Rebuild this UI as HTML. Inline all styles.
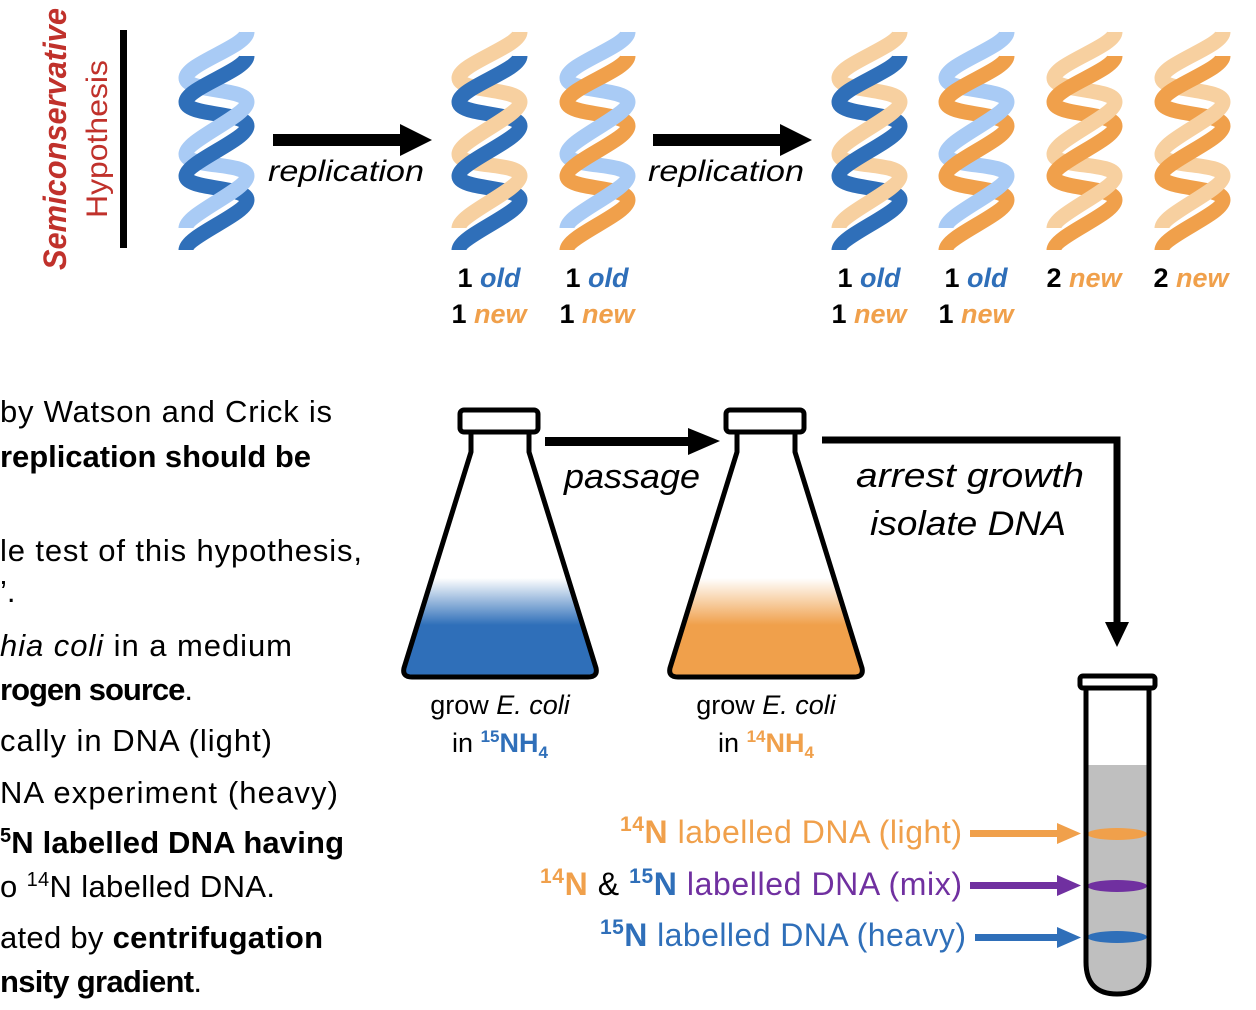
<!DOCTYPE html>
<html><head><meta charset="utf-8"><style>
html,body{margin:0;padding:0;background:#fff;}
svg{display:block;}
text{font-family:"Liberation Sans",sans-serif;}
</style></head><body>
<svg width="1256" height="1010" viewBox="0 0 1256 1010" xmlns="http://www.w3.org/2000/svg">
<defs>
<linearGradient id="blueG" gradientUnits="userSpaceOnUse" x1="0" y1="578" x2="0" y2="625">
<stop offset="0" stop-color="#ffffff"/><stop offset="1" stop-color="#2f6fb9"/></linearGradient>
<linearGradient id="orG" gradientUnits="userSpaceOnUse" x1="0" y1="578" x2="0" y2="625">
<stop offset="0" stop-color="#ffffff"/><stop offset="1" stop-color="#f0a04b"/></linearGradient>
</defs>

<text transform="translate(66,270) rotate(-90)" font-size="32" font-weight="bold" font-style="italic" fill="#c0312b" textLength="262" lengthAdjust="spacingAndGlyphs">Semiconservative</text>
<text transform="translate(107,218) rotate(-90)" font-size="30" fill="#c0312b" textLength="158" lengthAdjust="spacingAndGlyphs">Hypothesis</text>
<rect x="120" y="30" width="7" height="218" fill="#000"/>

<g id="helices" stroke-width="15" stroke-linecap="butt" fill="none"></g>

<rect x="273" y="134" width="130" height="12" fill="#000"/>
<polygon points="400,124 432,140 400,156" fill="#000"/>
<text x="268" y="181" font-size="30" font-style="italic" textLength="156" lengthAdjust="spacingAndGlyphs">replication</text>
<rect x="653" y="134" width="130" height="12" fill="#000"/>
<polygon points="780,124 812,140 780,156" fill="#000"/>
<text x="648" y="181" font-size="30" font-style="italic" textLength="156" lengthAdjust="spacingAndGlyphs">replication</text>

<g font-size="27" font-weight="bold" text-anchor="middle">
<text x="489" y="287">1 <tspan fill="#2f6fb9" font-style="italic">old</tspan></text>
<text x="489" y="323">1 <tspan fill="#f0a04b" font-style="italic">new</tspan></text>
<text x="597" y="287">1 <tspan fill="#2f6fb9" font-style="italic">old</tspan></text>
<text x="597" y="323">1 <tspan fill="#f0a04b" font-style="italic">new</tspan></text>
<text x="869" y="287">1 <tspan fill="#2f6fb9" font-style="italic">old</tspan></text>
<text x="869" y="323">1 <tspan fill="#f0a04b" font-style="italic">new</tspan></text>
<text x="976" y="287">1 <tspan fill="#2f6fb9" font-style="italic">old</tspan></text>
<text x="976" y="323">1 <tspan fill="#f0a04b" font-style="italic">new</tspan></text>
<text x="1084" y="287">2 <tspan fill="#f0a04b" font-style="italic">new</tspan></text>
<text x="1191" y="287">2 <tspan fill="#f0a04b" font-style="italic">new</tspan></text>
</g>

<g font-size="31" lengthAdjust="spacingAndGlyphs">
<text x="0" y="422" textLength="332">by Watson and Crick is</text>
<text x="0" y="467" font-weight="bold" textLength="311">replication should be</text>
<text x="0" y="561" textLength="362">le test of this hypothesis,</text>
<text x="0" y="602">’.</text>
<text x="0" y="656" textLength="292"><tspan font-style="italic">hia coli</tspan> in a medium</text>
<text x="0" y="700" font-weight="bold" textLength="193">rogen source<tspan font-weight="normal">.</tspan></text>
<text x="0" y="751" textLength="272">cally in DNA (light)</text>
<text x="0" y="803" textLength="338">NA experiment (heavy)</text>
<text x="0" y="853" font-weight="bold" textLength="344"><tspan font-size="20" dy="-11">5</tspan><tspan dy="11">N labelled DNA having</tspan></text>
<text x="0" y="897" textLength="275">o <tspan font-size="20" dy="-11">14</tspan><tspan dy="11">N labelled DNA.</tspan></text>
<text x="0" y="948" textLength="323">ated by <tspan font-weight="bold">centrifugation</tspan></text>
<text x="0" y="992" textLength="202"><tspan font-weight="bold">nsity gradient</tspan>.</text>
</g>

<g stroke="#000" stroke-width="5" stroke-linejoin="round">
<path d="M471,432 L471,452 L404,668 Q402,677 412,677 L588,677 Q598,677 596,668 L529,452 L529,432" fill="url(#blueG)"/>
<rect x="460" y="410" width="78" height="22" rx="4" fill="#fff"/>
<path d="M737,432 L737,452 L670,668 Q668,677 678,677 L854,677 Q864,677 862,668 L795,452 L795,432" fill="url(#orG)"/>
<rect x="726" y="410" width="78" height="22" rx="4" fill="#fff"/>
</g>
<rect x="545" y="437" width="145" height="9" fill="#000"/>
<polygon points="688,428 720,441 688,455" fill="#000"/>
<text x="632" y="488" font-size="34" font-style="italic" text-anchor="middle" textLength="136" lengthAdjust="spacingAndGlyphs">passage</text>

<path d="M822,440 L1117,440 L1117,625" fill="none" stroke="#000" stroke-width="7"/>
<polygon points="1105,622 1129,622 1117,647" fill="#000"/>
<text x="970" y="487" font-size="34" font-style="italic" text-anchor="middle" textLength="228" lengthAdjust="spacingAndGlyphs">arrest growth</text>
<text x="968" y="535" font-size="34" font-style="italic" text-anchor="middle" textLength="196" lengthAdjust="spacingAndGlyphs">isolate DNA</text>

<g font-size="27" text-anchor="middle">
<text x="500" y="714">grow <tspan font-style="italic">E. coli</tspan></text>
<text x="500" y="752">in <tspan fill="#2f6fb9" font-weight="bold"><tspan font-size="17" dy="-10">15</tspan><tspan dy="10">NH</tspan><tspan font-size="17" dy="6">4</tspan></tspan></text>
<text x="766" y="714">grow <tspan font-style="italic">E. coli</tspan></text>
<text x="766" y="752">in <tspan fill="#f0a04b" font-weight="bold"><tspan font-size="17" dy="-10">14</tspan><tspan dy="10">NH</tspan><tspan font-size="17" dy="6">4</tspan></tspan></text>
</g>

<path d="M1087,765 L1148,765 L1148,962 Q1148,993 1117,993 Q1087,993 1087,962 Z" fill="#bfbfbf"/>
<ellipse cx="1117" cy="834" rx="30" ry="6" fill="#f0a04b"/>
<ellipse cx="1117" cy="886" rx="30" ry="6" fill="#7030a0"/>
<ellipse cx="1117" cy="937" rx="30" ry="6" fill="#2f6fb9"/>
<path d="M1086,688 L1086,962 Q1086,994 1117,994 Q1149,994 1149,962 L1149,688" fill="none" stroke="#000" stroke-width="5"/>
<rect x="1080" y="676" width="75" height="12" rx="3" fill="#fff" stroke="#000" stroke-width="5"/>

<g font-size="32" lengthAdjust="spacingAndGlyphs">
<text x="620" y="843" fill="#f0a04b" textLength="342"><tspan font-weight="bold"><tspan font-size="21" dy="-12">14</tspan><tspan dy="12">N</tspan></tspan> labelled DNA (light)</text>
<text x="540" y="895" fill="#7030a0" textLength="422"><tspan fill="#f0a04b" font-weight="bold"><tspan font-size="21" dy="-12">14</tspan><tspan dy="12">N</tspan></tspan><tspan fill="#000"> &amp; </tspan><tspan fill="#2f6fb9" font-weight="bold"><tspan font-size="21" dy="-12">15</tspan><tspan dy="12">N</tspan></tspan> labelled DNA (mix)</text>
<text x="600" y="946" fill="#2f6fb9" textLength="366"><tspan font-weight="bold"><tspan font-size="21" dy="-12">15</tspan><tspan dy="12">N</tspan></tspan> labelled DNA (heavy)</text>
</g>
<rect x="970" y="830" width="90" height="7" fill="#f0a04b"/><polygon points="1057,823 1081,833.5 1057,844" fill="#f0a04b"/>
<rect x="970" y="882" width="90" height="7" fill="#7030a0"/><polygon points="1057,875 1081,885.5 1057,896" fill="#7030a0"/>
<rect x="975" y="934" width="85" height="7" fill="#2f6fb9"/><polygon points="1057,927 1081,937.5 1057,948" fill="#2f6fb9"/>
</svg>
<script>
(function(){
var g=document.getElementById('helices');
var NS='http://www.w3.org/2000/svg';
var L=8,R=69;
var A=[[R,6],[L,52],[R,76],[L,128],[R,150],[L,202]];
var B=[[R,30],[L,76],[R,100],[L,150],[R,174],[L,224]];
function seg(p,q,c,ox,oy){var e=document.createElementNS(NS,'path');
var x1=p[0]+ox,y1=p[1]+oy,x2=q[0]+ox,y2=q[1]+oy,k=14;
e.setAttribute('d','M'+x1+','+y1+' C'+x1+','+(y1+k)+' '+x2+','+(y2-k)+' '+x2+','+y2);
e.setAttribute('stroke',c);g.appendChild(e);}
function helix(ox,oy,ca,cb){
for(var i=1;i<A.length-1;i+=2){seg(A[i],A[i+1],ca,ox,oy);}
for(var i=1;i<B.length-1;i+=2){seg(B[i],B[i+1],cb,ox,oy);}
for(var i=0;i<A.length-1;i+=2){seg(A[i],A[i+1],ca,ox,oy);}
for(var i=0;i<B.length-1;i+=2){seg(B[i],B[i+1],cb,ox,oy);}
}
var LB='#a9cbf5',DB='#2f6fb9',LO='#f7d0a0',DO='#f0a04b';
var y0=26;
helix(178,y0,LB,DB);
helix(451,y0,LO,DB);
helix(559,y0,LB,DO);
helix(831,y0,LO,DB);
helix(938,y0,LB,DO);
helix(1046,y0,LO,DO);
helix(1154,y0,LO,DO);
})();
</script>
</body></html>
